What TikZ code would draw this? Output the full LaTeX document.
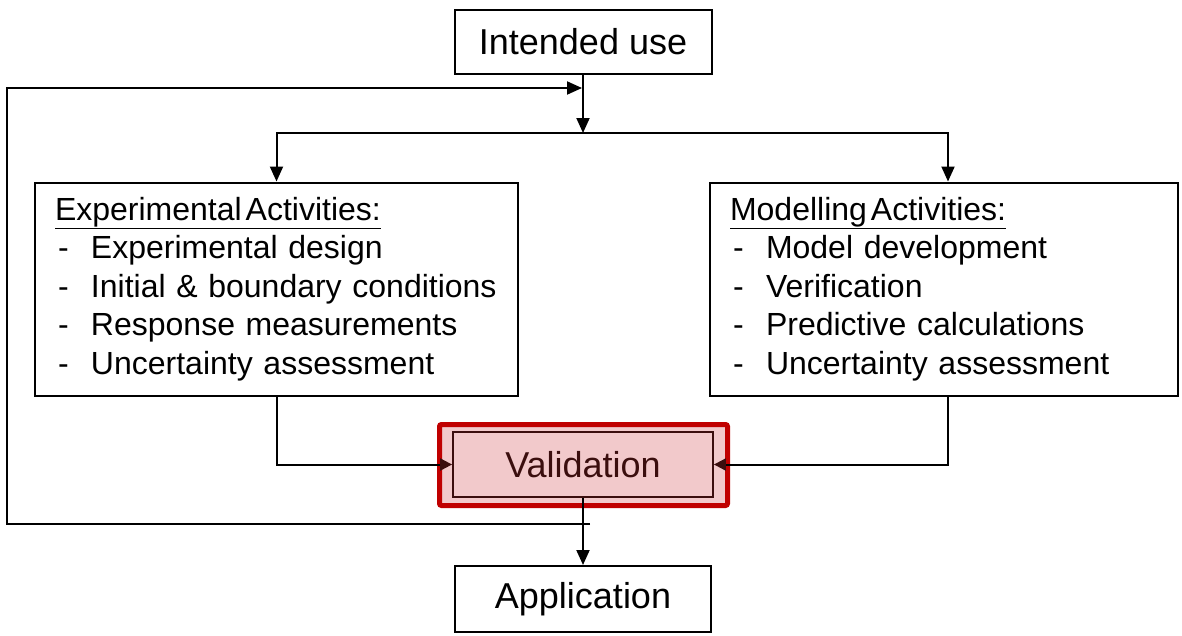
\documentclass[tikz,border=0pt]{standalone}
\usepackage{fontspec}
\setmainfont{Liberation Sans}
\usetikzlibrary{arrows.meta,calc}
\definecolor{valred}{HTML}{C00000}
\definecolor{valfill}{HTML}{F2C9CB}
\definecolor{valdark}{HTML}{3B0E0E}
\newcommand{\itemdash}{\makebox[36pt][l]{\hspace{3pt}-}}
\begin{document}
\begin{tikzpicture}[x=1pt,y=-1pt,line width=2pt,
  box/.style={draw=black,line width=2pt,inner sep=0pt,fill=white,
    font=\fontsize{36}{42}\selectfont},
  listbox/.style={draw=black,line width=2pt,inner xsep=20pt,inner ysep=0pt,
    align=left,minimum height=213pt,font=\fontsize{32}{38.4}\selectfont},
  arr/.style={-{Triangle[length=15pt,width=13pt]}},
  smallarr/.style={-{Triangle[length=12pt,width=12pt,fill=valdark,color=valdark]}},
  valouterbox/.style={draw=valred,line width=5pt,fill=valfill,rounded corners=2pt,
    minimum width=288pt,minimum height=81pt,inner sep=0pt},
  valinnerbox/.style={draw=valdark,line width=1.8pt,text=valdark,inner sep=0pt,
    minimum width=260pt,minimum height=65pt,font=\fontsize{36}{42}\selectfont}]
\useasboundingbox (0,0) rectangle (1182,635);

% boxes
\node[box,minimum width=257pt,minimum height=64pt] (intended) at (583,42) {Intended use};
\node[listbox,text width=443pt] (exp) at (276.5,289) {%
  \underline{Experimental\hspace{4pt}Activities:}\\
  \itemdash Experimental design\\
  \itemdash Initial \& boundary conditions\\
  \itemdash Response measurements\\
  \itemdash Uncertainty assessment};
\node[listbox,text width=428pt] (mod) at (944,289) {%
  \underline{Modelling\hspace{4pt}Activities:}\\
  \itemdash Model development\\
  \itemdash Verification\\
  \itemdash Predictive calculations\\
  \itemdash Uncertainty assessment};
\node[valouterbox] (valouter) at (583.5,465) {};
\node[valinnerbox] (valinner) at (583,464.5) {Validation};
\node[box,minimum width=256pt,minimum height=66pt] (app) at (583,599) {Application};

% split from the intended use to both activity boxes
\coordinate (split) at (583,133);
\draw[arr] (intended.south) -- (split);
\draw[arr] (split) -| (exp.north);
\draw[arr] (split) -| ($(mod.north)+(4,0)$);

% both activities feed the validation
\draw[smallarr] (exp.south) |- (valinner.west);
\draw[smallarr] ($(mod.south)+(4,0)$) |- (valinner.east);

% validation to application
\draw[arr] (valinner.south) -- (app.north);

% feedback loop back to the intended use
\coordinate (fbend) at (590,524);
\coordinate (fbcorner) at (7,88);
\draw[arr,shorten >=1pt] (fbend) -| (fbcorner) -- (intended.south |- fbcorner);
\end{tikzpicture}
\end{document}
